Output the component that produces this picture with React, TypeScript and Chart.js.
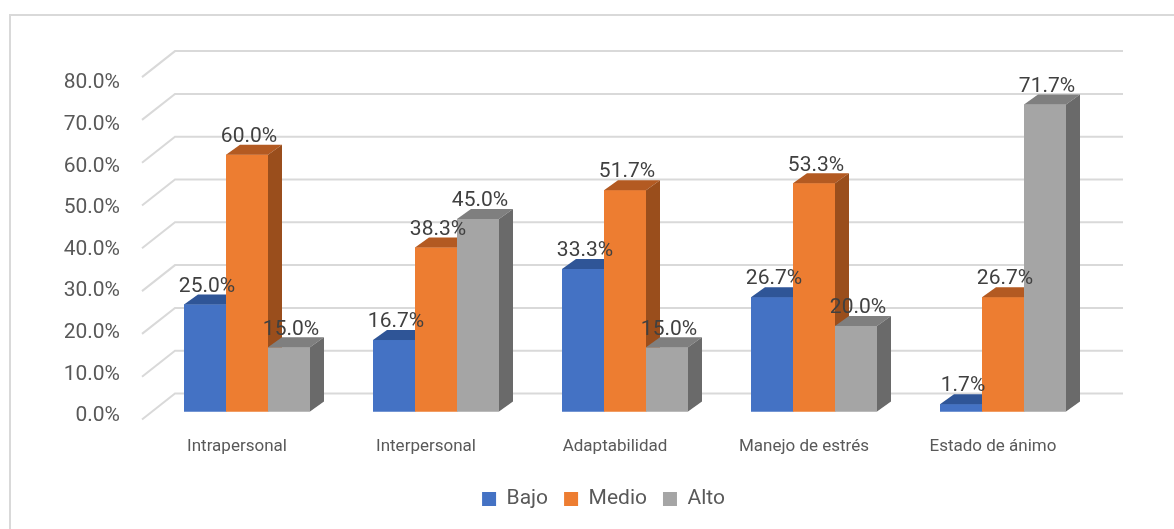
import React, { useEffect, useRef } from 'react';
import { Chart, registerables } from 'chart.js';

Chart.register(...registerables);

const categories = ['Intrapersonal', 'Interpersonal', 'Adaptabilidad', 'Manejo de estrés', 'Estado de ánimo'];
const seriesNames = ['Bajo', 'Medio', 'Alto'];
const bajo = [25.0, 16.7, 33.3, 26.7, 1.7];
const medio = [60.0, 38.3, 51.7, 53.3, 26.7];
const alto = [15.0, 45.0, 15.0, 20.0, 71.7];
const yTicks = [0, 10, 20, 30, 40, 50, 60, 70, 80];

const frontColors = ['#4472C4', '#ED7D31', '#A5A5A5'];
const topColors = ['#2F5597', '#B35A22', '#7F7F7F'];
const sideColors = ['#284A85', '#9A4E1C', '#6A6A6A'];

const DEPTH_X = 14;
const DEPTH_Y = -10;
const FONT = 'Roboto, "Liberation Sans", sans-serif';

const threeD = {
  id: 'threeD',
  beforeDraw(chart: any) {
    const { ctx, width, height } = chart;
    ctx.save();
    ctx.fillStyle = '#ffffff';
    ctx.fillRect(0, 0, width, height);
    ctx.strokeStyle = '#d9d9d9';
    ctx.lineWidth = 2;
    ctx.beginPath();
    ctx.moveTo(10, height);
    ctx.lineTo(10, 15);
    ctx.lineTo(width, 15);
    ctx.stroke();
    ctx.restore();
  },
  beforeDatasetsDraw(chart: any) {
    const { ctx, chartArea } = chart;
    const yb = chart.scales.yb;
    const wallL = chartArea.left + 22.5;
    const wallR = chartArea.right + 25.5;
    ctx.save();
    ctx.strokeStyle = '#d9d9d9';
    ctx.lineWidth = 2;
    yTicks.forEach((v) => {
      const by = yb.getPixelForValue(v) - 18;
      ctx.beginPath();
      ctx.moveTo(chartArea.left - 10.5, by + 26);
      ctx.lineTo(wallL, by);
      ctx.lineTo(wallR, by);
      ctx.stroke();
    });
    ctx.restore();
  },
  afterDatasetsDraw(chart: any) {
    const { ctx } = chart;
    const metas = chart.data.datasets.map((_: any, i: number) => chart.getDatasetMeta(i));
    ctx.save();
    for (let c = 0; c < categories.length; c++) {
      metas.forEach((meta: any, d: number) => {
        const el = meta.data[c];
        const { x, y, base, width } = el.getProps(['x', 'y', 'base', 'width'], true);
        const l = x - width / 2;
        const r = x + width / 2;
        ctx.fillStyle = frontColors[d];
        ctx.fillRect(l, y, r - l, base - y);
        ctx.fillStyle = topColors[d];
        ctx.beginPath();
        ctx.moveTo(l, y);
        ctx.lineTo(l + DEPTH_X, y + DEPTH_Y);
        ctx.lineTo(r + DEPTH_X, y + DEPTH_Y);
        ctx.lineTo(r, y);
        ctx.closePath();
        ctx.fill();
        ctx.fillStyle = sideColors[d];
        ctx.beginPath();
        ctx.moveTo(r, y);
        ctx.lineTo(r + DEPTH_X, y + DEPTH_Y);
        ctx.lineTo(r + DEPTH_X, base + DEPTH_Y);
        ctx.lineTo(r, base);
        ctx.closePath();
        ctx.fill();
      });
    }
    ctx.fillStyle = '#404040';
    ctx.font = `21px ${FONT}`;
    ctx.textAlign = 'center';
    ctx.textBaseline = 'middle';
    metas.forEach((meta: any, d: number) => {
      meta.data.forEach((el: any, c: number) => {
        const { x, y } = el.getProps(['x', 'y'], true);
        const v = chart.data.datasets[d].data[c];
        ctx.fillText(`${v.toFixed(1)}%`, x + 2, y - 18);
      });
    });
    ctx.restore();
  },
};

export default function App() {
  const ref = useRef<HTMLCanvasElement>(null);
  useEffect(() => {
    if (!ref.current) return;
    const chart = new Chart(ref.current, {
      type: 'bar',
      data: {
        labels: categories,
        datasets: [
          { label: seriesNames[0], data: bajo, backgroundColor: frontColors[0], yAxisID: 'yb' },
          { label: seriesNames[1], data: medio, backgroundColor: frontColors[1], yAxisID: 'yb' },
          { label: seriesNames[2], data: alto, backgroundColor: frontColors[2], yAxisID: 'yb' },
        ],
      },
      options: {
        animation: false,
        responsive: false,
        events: [],
        layout: { padding: { left: 43, right: 10, top: 83, bottom: 9.5 } },
        datasets: { bar: { barPercentage: 1, categoryPercentage: 126 / 189, borderWidth: 0 } },
        plugins: {
          tooltip: { enabled: false },
          legend: {
            position: 'bottom',
            labels: {
              boxWidth: 14,
              boxHeight: 14,
              padding: 16,
              color: '#595959',
              font: { family: FONT, size: 21 },
            },
          },
        },
        scales: {
          x: {
            grid: { display: false, drawTicks: false },
            border: { display: false },
            ticks: {
              font: { family: FONT, size: 17 },
              color: '#595959',
              padding: 21,
              labelOffset: -10,
              maxRotation: 0,
              autoSkip: false,
            },
            afterFit: (s: any) => { s.height = 56.5; },
          },
          y: {
            position: 'left',
            min: 0,
            max: 80,
            grid: { display: false, drawTicks: false },
            border: { display: false },
            ticks: {
              stepSize: 10,
              font: { family: FONT, size: 21 },
              color: '#595959',
              padding: 32.5,
              callback: (v: any) => `${Number(v).toFixed(1)}%`,
            },
            afterFit: (s: any) => { s.width = 109.5; },
          },
          yRightSpace: {
            position: 'right',
            display: true,
            min: 0,
            max: 80,
            grid: { display: false, drawTicks: false },
            border: { display: false },
            ticks: { display: false },
            afterFit: (s: any) => { s.width = 66.5; },
          },
          yb: {
            display: false,
            position: 'left',
            min: -1.052,
            max: 76.75,
          },
        },
      },
      plugins: [threeD],
    });
    return () => chart.destroy();
  }, []);
  return (
    <div style={{ position: 'absolute', left: 0, top: 0, width: 1174, height: 529 }}>
      <canvas ref={ref} width={1174} height={529} style={{ display: 'block' }} />
    </div>
  );
}
